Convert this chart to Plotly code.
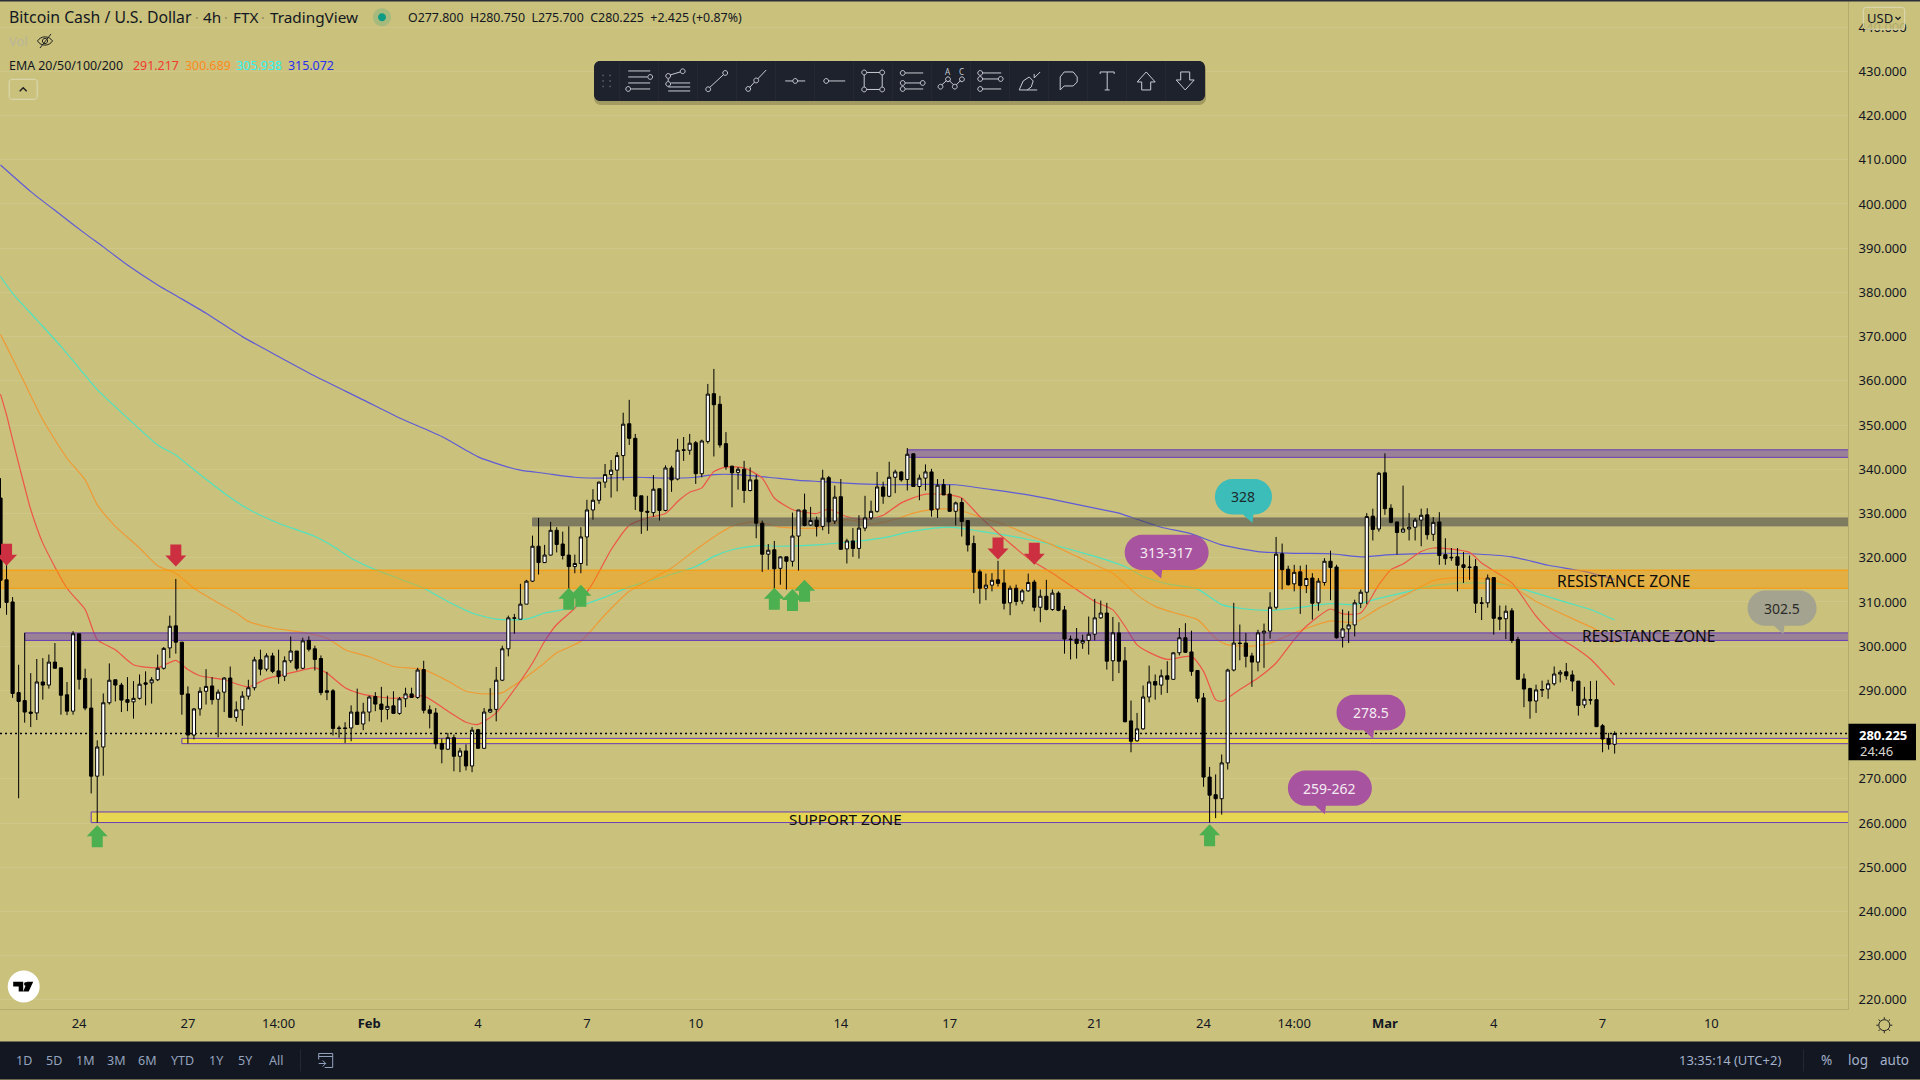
import pandas as pd
import plotly.graph_objects as go

# 4h candles
opens = [
    333.5, 315.0, 310.0, 289.5, 287.7, 285.1, 284.9, 291.9, 291.2, 296.4,
    295.1, 289.0, 285.3, 302.8, 292.7, 286.0, 270.6, 277.2, 287.2, 292.4,
    291.2, 287.9, 287.4, 288.2, 291.7, 291.7, 292.4, 295.0, 299.6, 304.6,
    300.9, 289.2, 279.9, 285.8, 289.8, 291.0, 288.0, 289.6, 292.8, 283.9,
    285.6, 288.7, 290.6, 296.9, 294.8, 297.8, 294.4, 293.2, 296.7, 298.9,
    295.0, 301.3, 299.4, 297.2, 289.9, 289.9, 281.5, 281.5, 281.5, 285.1,
    282.4, 285.1, 288.6, 286.9, 285.7, 286.5, 284.8, 288.1, 289.2, 288.4,
    294.7, 285.6, 284.9, 278.0, 276.7, 279.3, 275.1, 276.3, 272.9, 281.1,
    276.9, 285.1, 285.7, 292.3, 299.4, 306.3, 306.1, 309.5, 314.7, 322.6,
    318.9, 320.6, 326.2, 323.1, 320.6, 318.0, 318.7, 324.7, 330.8, 333.0,
    337.1, 338.8, 339.8, 343.1, 350.3, 347.0, 334.0, 330.5, 330.2, 335.6,
    330.7, 340.3, 337.8, 344.4, 344.3, 346.0, 339.0, 346.3, 357.1, 354.7,
    345.8, 340.7, 339.3, 340.0, 335.2, 337.6, 327.8, 320.8, 321.8, 317.6,
    320.2, 319.2, 324.9, 330.8, 327.4, 328.5, 327.1, 338.1, 328.3, 333.8,
    322.0, 323.8, 322.1, 326.7, 329.0, 330.5, 336.0, 333.9, 338.2, 339.4,
    337.7, 343.5, 336.1, 338.0, 339.4, 331.0, 336.5, 334.4, 330.5, 332.5,
    328.4, 323.2, 316.8, 313.1, 313.8, 315.0, 314.3, 309.8, 313.1, 310.2,
    312.5, 314.5, 308.8, 311.3, 308.3, 312.0, 308.2, 301.6, 301.6, 300.7,
    301.3, 302.7, 306.4, 307.5, 296.7, 303.0, 296.7, 283.1, 278.6, 281.3,
    288.5, 292.0, 291.2, 293.3, 292.5, 298.5, 301.9, 298.7, 294.5, 288.3,
    270.4, 266.4, 265.5, 273.6, 294.6, 300.7, 300.7, 297.8, 296.4, 303.0,
    303.4, 308.8, 320.9, 317.4, 314.1, 316.8, 313.7, 315.4, 309.8, 314.4,
    319.2, 317.9, 302.0, 303.9, 304.8, 309.7, 312.2, 329.4, 326.5, 339.2,
    331.2, 328.1, 325.8, 326.5, 326.9, 328.5, 329.7, 325.3, 328.1, 320.7,
    320.1, 320.2, 318.4, 317.9, 318.0, 309.8, 309.8, 315.5, 306.5, 306.2,
    308.0, 301.5, 292.6, 290.4, 287.6, 290.2, 290.3, 291.5, 293.7, 294.2,
    293.5, 292.1, 286.7, 287.9, 287.9, 282.0, 279.1, 277.8,
]
highs = [
    338.0, 318.6, 311.1, 295.8, 303.0, 293.9, 297.1, 297.3, 298.1, 300.7,
    295.1, 291.9, 303.4, 302.8, 294.9, 292.7, 278.7, 289.3, 296.1, 292.4,
    291.7, 293.0, 292.1, 293.6, 294.3, 293.0, 298.1, 299.8, 306.9, 315.2,
    300.9, 290.9, 286.0, 290.7, 294.8, 293.0, 290.2, 293.0, 295.4, 287.5,
    289.8, 292.4, 297.6, 299.2, 298.4, 298.5, 299.2, 297.7, 302.2, 298.9,
    301.9, 302.2, 300.1, 297.9, 294.2, 290.3, 282.0, 282.8, 286.6, 290.4,
    287.2, 288.8, 289.6, 290.8, 288.8, 289.8, 288.5, 290.6, 290.6, 295.1,
    296.7, 286.6, 286.0, 279.1, 280.4, 280.0, 277.0, 277.8, 281.7, 281.3,
    286.0, 290.5, 295.3, 300.1, 306.9, 307.3, 314.1, 315.0, 325.0, 329.0,
    322.9, 328.1, 326.9, 325.9, 327.1, 320.7, 326.9, 333.1, 335.5, 337.2,
    341.2, 342.1, 343.9, 352.8, 355.7, 348.0, 334.0, 334.0, 338.7, 335.6,
    340.9, 340.8, 346.9, 347.3, 348.0, 346.4, 346.7, 359.3, 362.7, 356.6,
    348.4, 340.8, 340.5, 341.9, 340.4, 338.8, 328.4, 323.1, 323.8, 320.3,
    320.2, 330.2, 330.8, 334.5, 331.5, 329.3, 339.9, 338.5, 336.3, 337.8,
    324.3, 326.7, 329.6, 334.0, 332.9, 339.4, 337.2, 341.7, 339.9, 339.5,
    344.8, 343.5, 338.8, 341.1, 340.1, 337.8, 337.8, 336.5, 332.7, 333.5,
    328.4, 325.0, 317.3, 316.4, 316.5, 319.3, 317.3, 313.7, 313.9, 312.9,
    316.4, 315.0, 312.8, 315.0, 312.8, 312.4, 309.1, 302.4, 304.1, 302.6,
    306.7, 310.7, 310.3, 309.8, 306.6, 305.4, 299.8, 287.7, 284.9, 291.1,
    295.6, 293.6, 294.7, 296.6, 298.6, 304.1, 305.2, 303.5, 294.5, 289.4,
    272.7, 271.0, 275.5, 294.9, 309.8, 304.9, 303.0, 298.5, 303.7, 305.1,
    312.2, 324.7, 323.2, 318.2, 318.4, 318.2, 318.4, 316.5, 315.4, 319.9,
    321.6, 318.4, 308.3, 307.9, 310.5, 312.8, 330.1, 331.1, 339.4, 343.6,
    332.1, 328.1, 336.3, 330.1, 329.0, 331.1, 331.2, 329.2, 330.3, 324.4,
    322.2, 322.2, 321.3, 320.5, 319.7, 311.1, 316.2, 315.5, 309.2, 309.2,
    308.6, 302.1, 293.8, 290.6, 291.3, 292.2, 292.4, 295.4, 294.6, 296.2,
    294.5, 292.1, 290.8, 292.1, 292.2, 282.4, 280.4, 280.75,
]
lows = [
    308.6, 307.1, 288.3, 265.6, 282.7, 281.7, 283.3, 287.9, 290.4, 295.0,
    284.5, 284.4, 284.5, 290.2, 285.5, 266.7, 260.1, 270.7, 286.8, 287.5,
    285.1, 285.3, 283.6, 287.9, 286.6, 287.0, 292.1, 294.7, 297.3, 298.3,
    284.5, 278.0, 278.9, 284.3, 286.8, 286.8, 279.4, 285.1, 283.9, 282.9,
    282.0, 287.9, 290.0, 293.4, 294.3, 293.9, 291.5, 292.1, 296.2, 294.5,
    294.8, 298.8, 294.5, 288.9, 287.8, 279.8, 279.3, 278.1, 278.5, 282.2,
    281.0, 283.0, 285.3, 282.8, 283.4, 284.7, 284.5, 286.2, 288.3, 288.1,
    284.8, 281.4, 276.8, 273.5, 276.5, 271.7, 271.5, 271.9, 271.5, 276.8,
    276.8, 284.9, 283.0, 292.1, 297.7, 302.8, 306.1, 309.5, 314.5, 316.2,
    318.8, 320.5, 321.2, 319.6, 312.5, 316.5, 316.5, 318.2, 328.6, 332.2,
    335.8, 333.6, 335.0, 337.5, 345.5, 330.8, 325.4, 326.1, 329.3, 328.4,
    330.5, 334.9, 337.5, 341.9, 343.3, 336.7, 338.2, 345.8, 342.9, 344.9,
    339.9, 331.4, 335.4, 332.4, 335.0, 324.4, 316.8, 317.3, 312.4, 313.9,
    312.8, 318.0, 317.1, 327.1, 327.2, 324.8, 326.2, 325.4, 327.6, 321.8,
    318.7, 320.2, 319.8, 326.0, 328.6, 330.2, 332.2, 333.7, 334.6, 337.2,
    335.2, 336.0, 333.0, 335.2, 329.3, 329.0, 334.2, 330.4, 327.3, 324.8,
    321.4, 312.0, 309.6, 310.4, 312.4, 313.5, 308.3, 307.0, 309.2, 309.5,
    312.3, 307.9, 305.4, 308.1, 308.0, 307.9, 298.3, 297.0, 297.2, 299.4,
    298.1, 301.3, 306.2, 294.7, 292.1, 293.9, 282.8, 276.0, 278.4, 281.1,
    287.3, 287.9, 289.0, 289.4, 292.4, 297.9, 298.5, 293.3, 287.3, 268.2,
    260.1, 261.1, 261.9, 272.1, 294.3, 296.8, 295.2, 290.8, 294.3, 295.1,
    301.7, 308.3, 312.8, 313.7, 312.4, 307.3, 312.0, 306.0, 308.0, 313.7,
    310.4, 301.7, 299.7, 300.7, 302.2, 308.6, 309.5, 323.9, 325.9, 329.7,
    327.8, 320.7, 325.7, 323.9, 323.9, 322.6, 324.1, 323.8, 318.4, 318.4,
    319.3, 312.4, 314.3, 315.0, 307.5, 305.9, 308.7, 302.6, 303.6, 301.6,
    300.7, 292.4, 286.2, 283.6, 284.9, 288.5, 288.1, 291.1, 291.8, 292.4,
    289.8, 284.3, 286.0, 286.8, 281.7, 276.0, 276.6, 275.7,
]
closes = [
    314.9, 309.9, 289.3, 287.5, 285.1, 284.8, 291.9, 291.2, 296.4, 295.0,
    288.9, 285.3, 302.8, 292.5, 286.0, 270.6, 277.2, 287.2, 292.3, 291.2,
    287.8, 287.3, 288.2, 291.4, 291.4, 292.4, 295.0, 299.5, 304.5, 300.9,
    289.1, 279.9, 285.8, 289.8, 290.9, 287.9, 289.6, 292.8, 283.9, 285.6,
    288.7, 290.6, 296.9, 294.8, 297.8, 294.3, 293.1, 296.7, 298.9, 295.0,
    301.2, 299.3, 297.0, 289.5, 289.6, 281.4, 281.4, 281.4, 285.1, 282.3,
    285.1, 288.5, 286.9, 285.7, 286.4, 284.8, 288.1, 289.2, 288.4, 294.6,
    285.5, 284.8, 277.9, 276.7, 279.3, 275.1, 276.3, 272.9, 281.0, 276.9,
    285.1, 285.7, 292.3, 299.4, 306.4, 306.4, 309.5, 314.7, 322.6, 318.9,
    320.6, 326.2, 323.0, 320.5, 318.0, 318.7, 324.7, 330.8, 333.0, 337.1,
    338.8, 339.8, 343.1, 350.2, 347.0, 333.9, 330.5, 330.3, 335.5, 330.7,
    340.3, 337.6, 344.3, 344.3, 345.9, 339.0, 346.4, 357.0, 354.6, 345.5,
    340.6, 339.2, 340.0, 335.2, 337.6, 327.8, 320.8, 321.7, 317.5, 320.2,
    319.2, 324.9, 330.8, 327.3, 328.4, 327.1, 338.0, 328.1, 333.7, 321.9,
    323.8, 322.1, 326.7, 329.0, 330.5, 336.0, 333.9, 338.2, 339.4, 337.6,
    343.4, 336.1, 338.0, 339.4, 330.8, 336.4, 334.2, 330.5, 332.4, 328.2,
    322.9, 316.7, 313.1, 313.8, 314.9, 314.2, 309.7, 313.1, 310.1, 312.5,
    314.4, 308.8, 311.3, 308.3, 312.0, 308.1, 301.6, 301.5, 300.6, 301.3,
    302.7, 306.4, 307.5, 296.6, 303.0, 296.6, 282.9, 278.5, 281.3, 288.5,
    291.9, 291.2, 293.3, 292.5, 298.5, 301.9, 298.6, 294.3, 288.2, 270.4,
    266.3, 265.5, 273.6, 294.6, 300.7, 300.6, 297.7, 296.4, 303.0, 303.4,
    308.8, 320.8, 317.3, 313.9, 316.7, 313.7, 315.3, 309.7, 314.7, 319.2,
    317.8, 301.9, 303.9, 304.8, 309.8, 312.2, 329.3, 326.4, 339.1, 331.1,
    328.0, 325.7, 326.5, 326.9, 328.5, 329.6, 325.2, 328.0, 320.5, 319.8,
    320.0, 318.3, 317.8, 317.8, 309.7, 309.7, 315.4, 306.3, 306.1, 307.9,
    301.3, 292.5, 290.3, 287.6, 290.1, 290.1, 291.5, 293.7, 294.1, 293.3,
    292.1, 286.6, 288.0, 287.8, 281.8, 279.0, 277.8, 280.225,
]

# EMA lines, read at the bars where they bend (bar number, value)
ema20_bars = [0, 1, 2, 4, 5, 7, 11, 14, 16, 19, 22, 26, 29, 31, 33, 37, 41, 44, 47, 52, 54, 57, 60, 65, 70, 74, 77, 79, 82, 85, 88, 90, 92, 95, 98, 101, 104, 107, 110, 112, 114, 116, 118, 120, 123, 126, 128, 131, 135, 137, 140, 143, 146, 149, 153, 157, 159, 162, 166, 170, 174, 178, 181, 184, 186, 188, 190, 193, 197, 199, 201, 202, 205, 208, 211, 214, 216, 220, 222, 225, 228, 230, 232, 235, 237, 243, 245, 250, 254, 257, 260, 263, 267]
ema20_vals = [357, 352.3, 346.7, 336, 330.9, 323.3, 313.1, 308.3, 301.5, 299.2, 295.8, 295.1, 296.8, 294.7, 293.3, 292.4, 290.8, 292.6, 293.6, 295.1, 293.9, 290.6, 289.1, 288.2, 288.7, 285.3, 282.8, 282.3, 284.9, 290.2, 296.2, 301.1, 304.9, 308.6, 314.3, 321.8, 327.3, 329, 330, 332.7, 334.8, 335.8, 339.5, 340.5, 340.3, 338, 333.5, 330.9, 330, 331, 329.3, 328.6, 329.6, 332.4, 334.4, 334.2, 333.5, 329.3, 324.4, 319.9, 316.5, 312.8, 310.1, 308.2, 304.5, 300.3, 298.6, 297, 297.7, 294.3, 287.9, 287.5, 290.2, 292.8, 296.2, 301.5, 304.5, 308.4, 307.3, 307.5, 313.9, 317.3, 318.6, 321.4, 322.2, 321.2, 318.8, 314.3, 306.8, 302.6, 300.1, 297.1, 291.2]
ema50_bars = [0, 1, 4, 7, 11, 14, 16, 19, 23, 26, 29, 32, 36, 39, 41, 45, 50, 54, 57, 61, 65, 70, 74, 77, 80, 83, 86, 89, 92, 96, 100, 104, 107, 111, 115, 119, 121, 125, 129, 135, 140, 144, 148, 151, 154, 158, 162, 166, 170, 174, 178, 181, 184, 188, 191, 194, 198, 201, 203, 207, 210, 214, 217, 220, 224, 228, 233, 237, 241, 246, 250, 254, 258, 261, 264, 267]
ema50_vals = [370.5, 367.8, 359.5, 351.2, 342.5, 337.6, 332, 327.1, 322.2, 318.2, 316.5, 313.1, 309.8, 307.5, 305.6, 304.1, 303.1, 301.8, 299.2, 297.6, 295.4, 294.7, 292.1, 289.8, 289.2, 289.5, 292.1, 295.1, 298.5, 301.1, 307.1, 312.4, 314.7, 317.7, 321.8, 325.6, 327.1, 328.2, 326.9, 326.7, 328.6, 327.6, 328.7, 330.1, 330.9, 331, 329.2, 327.5, 325.2, 322.9, 320.3, 318.4, 316.5, 311.6, 309, 307.6, 306, 301.8, 300.3, 300, 300.7, 303, 304.5, 305.7, 305.4, 308.6, 312, 314.8, 315.5, 315.2, 313.5, 310.1, 307.5, 305.6, 303.7, 300.7]
ema100_bars = [0, 2, 6, 10, 13, 16, 21, 26, 29, 33, 37, 41, 46, 52, 55, 58, 62, 70, 74, 78, 82, 87, 90, 95, 100, 104, 109, 115, 118, 121, 125, 129, 135, 140, 146, 151, 157, 162, 169, 175, 181, 186, 189, 193, 198, 202, 206, 210, 214, 220, 224, 228, 233, 237, 243, 249, 254, 259, 263, 267]
ema100_vals = [383.6, 379.8, 373.8, 367.8, 362.9, 358, 351.6, 345.5, 343.2, 338.8, 334.6, 331, 327.8, 324.8, 322.6, 319.9, 317.3, 313.1, 310.1, 307.5, 306.1, 306.1, 307.5, 308.8, 311.1, 313.4, 315.4, 318, 320.3, 321.8, 322.7, 322.6, 322.9, 323.5, 324.5, 326, 326.9, 326, 324.4, 322.6, 320.3, 318, 315.8, 314.1, 312.9, 309.4, 308.4, 308.1, 308.6, 309.6, 309.4, 310.8, 312.4, 313.7, 314.3, 313.9, 312, 309.9, 308.3, 305.9]
ema200_bars = [0, 5, 10, 14, 17, 21, 26, 29, 34, 40, 46, 52, 60, 66, 73, 79, 83, 86, 90, 95, 100, 105, 110, 115, 118, 122, 127, 132, 136, 142, 147, 153, 158, 164, 170, 175, 181, 185, 188, 192, 197, 202, 208, 214, 220, 225, 230, 237, 243, 250, 256, 262, 267]
ema200_vals = [408.8, 402.8, 397.5, 393.3, 390.3, 386.2, 381.7, 379.3, 375.3, 370, 365.5, 361.1, 355.7, 351.6, 347.4, 342.8, 340.9, 339.8, 339.1, 338.2, 338, 338.2, 338, 338.2, 338.8, 338.8, 338.2, 337.5, 337.2, 336.7, 336.5, 336.6, 336.5, 335.4, 334.2, 332.9, 331.2, 330.1, 328.7, 326.9, 325.4, 322.9, 321.4, 321, 320.9, 320.2, 320.7, 321, 320.9, 320.2, 318.3, 316.9, 315.1]

# drawn zones: first bar, low, high
zone_start = [0, 88, 150, 4, 30, 15]
zone_low = [313.1, 327.2, 342.7, 301.3, 277.95, 260.1]
zone_high = [317.2, 329.0, 344.4, 303.0, 279.15, 262.5]
zone_fill = ["rgba(255,152,0,0.45)", "rgba(77,77,77,0.6)", "rgba(103,58,183,0.47)",
             "rgba(103,58,183,0.47)", "#ecd94a", "#e6d652"]
zone_line = ["#ff9800", "#7f7a66", "#673ab7", "#673ab7", "#673ab7", "#673ab7"]

# arrows on the chart: bar and tip price
up_bars = [16, 94, 96, 128, 131, 133, 200]
up_tips = [259.5, 313.2, 313.9, 313.2, 312.9, 315.0, 259.7]
down_bars = [1, 29, 165, 171]
down_tips = [318.2, 318.0, 319.6, 318.4]

# balloons: label, bar, price
balloon_text = ["313-317", "328", "278.5", "259-262", "302.5"]
balloon_bar = [192.9, 205.6, 226.7, 219.9, 294.7]
balloon_price = [321.2, 333.8, 285.0, 267.9, 308.6]
balloon_fill = ["#a8539f", "#3dbdba", "#a8539f", "#a8539f", "#a4a38f"]
balloon_color = ["#f4ecf2", "#1b2a2a", "#f4ecf2", "#f4ecf2", "#2a2a26"]
balloon_tail = [-5.5, 9, 2, -5, 1.3]
balloon_width = [84, 57, 69, 84, 69]

price_ticks = list(range(220, 450, 10))
time_tick_bars = [13, 31, 46, 61, 79, 97, 115, 139, 157, 181, 199, 214, 229, 247, 265, 283]
time_tick_text = ["24", "27", "14:00", "<b>Feb</b>", "4", "7", "10", "14", "17", "21", "24", "14:00",
                  "<b>Mar</b>", "4", "7", "10"]
last_price = 280.225

BG = "#c9c17c"
DARK = "#131722"
PANEL = "#1e222d"
FONT = "Noto Sans"
PLOT_W = 1848
PLOT_TOP = 2
PLOT_H = 1007.5


def bar_time(i):
    return pd.Timestamp("2022-01-21 22:00") + pd.Timedelta(hours=4 * i)


def t(i):
    return bar_time(i).strftime("%Y-%m-%d %H:%M:%S")


def px(x):
    return x / PLOT_W


def py(y):
    return 1 - (y - PLOT_TOP) / PLOT_H


def price_at(y):
    return 320 + (558 - y) / 4.424


dates = [t(i) for i in range(len(opens))]
x_range = [t(-0.083), t(305.6)]
y_range = [price_at(PLOT_TOP + PLOT_H), price_at(PLOT_TOP)]

fig = go.Figure()

# lowest layer: EMAs, then zones on top of them, candles on the overlay axes
for bars, vals, col in [(ema200_bars, ema200_vals, "#5f5bd6"), (ema100_bars, ema100_vals, "#4fe3bf"),
                        (ema50_bars, ema50_vals, "#f09a35"), (ema20_bars, ema20_vals, "#ee5548")]:
    fig.add_trace(go.Scatter(x=[t(b) for b in bars], y=vals, mode="lines", hoverinfo="skip",
                             line=dict(color=col, width=1.2, shape="spline", smoothing=0.6)))

for s, lo, hi, fc, lc in zip(zone_start, zone_low, zone_high, zone_fill, zone_line):
    fig.add_trace(go.Scatter(x=[t(s), t(306), t(306), t(s), t(s)], y=[lo, lo, hi, hi, lo], mode="lines",
                             fill="toself", fillcolor=fc, line=dict(color=lc, width=1), hoverinfo="skip"))

fig.add_trace(go.Candlestick(x=dates, open=opens, high=highs, low=lows, close=closes,
                             xaxis="x2", yaxis="y2", whiskerwidth=0,
                             increasing=dict(fillcolor="#ffffff", line=dict(color="#000000", width=1)),
                             decreasing=dict(fillcolor="#000000", line=dict(color="#000000", width=1))))

shapes = []
annotations = []


def fmt(v):
    return f"{round(v, 2):g}"


def poly(pts, close=True):
    # offsets are screen pixels, y down; plotly's pixel paths have y up
    s = "M" + " L".join(f"{fmt(x)},{fmt(-y)}" for x, y in pts)
    return s + (" Z" if close else "")


def circle(cx, cy, r):
    k = 0.5523 * r
    y = -cy
    return (f"M{fmt(cx - r)},{fmt(y)} C{fmt(cx - r)},{fmt(y + k)} {fmt(cx - k)},{fmt(y + r)} {fmt(cx)},{fmt(y + r)} "
            f"C{fmt(cx + k)},{fmt(y + r)} {fmt(cx + r)},{fmt(y + k)} {fmt(cx + r)},{fmt(y)} "
            f"C{fmt(cx + r)},{fmt(y - k)} {fmt(cx + k)},{fmt(y - r)} {fmt(cx)},{fmt(y - r)} "
            f"C{fmt(cx - k)},{fmt(y - r)} {fmt(cx - r)},{fmt(y - k)} {fmt(cx - r)},{fmt(y)} Z")


def rrect(x0, y0, x1, y1, r, tail=None):
    y0, y1 = -y0, -y1
    k = r * 0.45
    s = f"M{fmt(x0 + r)},{fmt(y0)} L{fmt(x1 - r)},{fmt(y0)} "
    s += f"C{fmt(x1 - k)},{fmt(y0)} {fmt(x1)},{fmt(y0 - k)} {fmt(x1)},{fmt(y0 - r)} "
    s += f"L{fmt(x1)},{fmt(y1 + r)} C{fmt(x1)},{fmt(y1 + k)} {fmt(x1 - k)},{fmt(y1)} {fmt(x1 - r)},{fmt(y1)} "
    if tail is not None:
        s += f"L{fmt(tail + 1)},{fmt(y1)} L{fmt(tail)},{fmt(y1 - 8.5)} L{fmt(tail - 9.5)},{fmt(y1)} "
    s += f"L{fmt(x0 + r)},{fmt(y1)} C{fmt(x0 + k)},{fmt(y1)} {fmt(x0)},{fmt(y1 + k)} {fmt(x0)},{fmt(y1 + r)} "
    s += f"L{fmt(x0)},{fmt(y0 - r)} C{fmt(x0)},{fmt(y0 - k)} {fmt(x0 + k)},{fmt(y0)} {fmt(x0 + r)},{fmt(y0)} Z"
    return s


def screen_shape(cx, cy, path, fill=None, color=None, width=1.0):
    shapes.append(dict(type="path", layer="above", xref="paper", yref="paper", xsizemode="pixel", ysizemode="pixel",
                       xanchor=px(cx), yanchor=py(cy), path=path, fillcolor=fill or "rgba(0,0,0,0)",
                       line=dict(color=color or "rgba(0,0,0,0)", width=width if color else 0)))


def data_shape(bar, price, path, fill):
    shapes.append(dict(type="path", layer="above", xref="x", yref="y", xsizemode="pixel", ysizemode="pixel",
                       xanchor=t(bar), yanchor=price, path=path, fillcolor=fill, line=dict(width=0)))


def box(x0, y0, x1, y1, fill, color=None):
    shapes.append(dict(type="rect", layer="above", xref="paper", yref="paper", x0=px(x0), x1=px(x1),
                       y0=py(y1), y1=py(y0), fillcolor=fill, line=dict(color=color or fill, width=1 if color else 0)))


def text(x, y, s, size=12, color="#131722", anchor="left", family=FONT):
    annotations.append(dict(xref="paper", yref="paper", x=px(x), y=py(y), text=s, showarrow=False,
                            xanchor=anchor, yanchor="middle", borderpad=0, borderwidth=0,
                            font=dict(family=family, size=size, color=color)))


# last price line
shapes.append(dict(type="line", layer="above", xref="paper", yref="y", x0=0, x1=1, y0=last_price, y1=last_price,
                   line=dict(color="#000000", width=1.5, dash="2px,3px")))

# chart arrows
for b, p in zip(up_bars, up_tips):
    data_shape(b, p, poly([(0, 0), (10.5, 11), (5.5, 11), (5.5, 22), (-5.5, 22), (-5.5, 11), (-10.5, 11)]), "#4caf50")
for b, p in zip(down_bars, down_tips):
    data_shape(b, p, poly([(0, 0), (10.5, -11), (5.5, -11), (5.5, -22), (-5.5, -22), (-5.5, -11), (-10.5, -11)]), "#cc2f3f")

# balloons with their labels
for lab, b, p, fc, tc, tl, w in zip(balloon_text, balloon_bar, balloon_price, balloon_fill, balloon_color,
                                    balloon_tail, balloon_width):
    data_shape(b, p, rrect(-w / 2, -17.7, w / 2, 17.7, 17.5, tail=tl), fc)
    annotations.append(dict(xref="x", yref="y", x=t(b), y=p, text=lab, showarrow=False, xanchor="center",
                            yanchor="middle", font=dict(family=FONT, size=14, color=tc)))

# zone labels
text(1623, 581.7, "RESISTANCE ZONE", 15.5, "#0c0c0c", "center")
text(1648.5, 636.7, "RESISTANCE ZONE", 15.5, "#0c0c0c", "center")
text(845, 819.5, "SUPPORT ZONE", 15.3, "#0c0c0c", "center")

# header
box(0, 0, 1920, 1.5, "#2a2e39")
text(8.6, 17.3, "Bitcoin Cash / U.S. Dollar", 15.8, "#131722")
for x, s in [(203, "4h"), (232.6, "FTX"), (269.5, "TradingView")]:
    text(x, 17.3, s, 15.3, "#131722")
for x in (197, 226, 263):
    text(x, 17.3, "·", 14, "#8f8b5c", "center")
screen_shape(382, 17.3, circle(0, 0, 9), fill="rgba(8,153,129,0.18)")
screen_shape(382, 17.3, circle(0, 0, 4), fill="#0c9c86")
text(408, 18, "O277.800  H280.750  L275.700  C280.225  +2.425 (+0.87%)", 12.4, "#131722")
text(9, 41.3, "Vol", 13, "#b9b69a")
screen_shape(45, 41, "M-7.5,0 C-4,5.5 4,5.5 7.5,0 C4,-5.5 -4,-5.5 -7.5,0 Z", color="#222222", width=1)
screen_shape(45, 41, poly([(-5, 7), (6, -7)], close=False), color="#222222", width=1)
screen_shape(45, 41, circle(0, 0, 2.6), color="#222222", width=1)
text(9, 65.7, "EMA 20/50/100/200", 12.4, "#131722")
for x, s, c in [(133, "291.217", "#f23a30"), (184.5, "300.689", "#ff8a1e"), (236, "305.938", "#2ff5f5"),
                (288, "315.072", "#2a2ef0")]:
    text(x, 65.7, s, 12.4, c)
screen_shape(23.2, 89.3, rrect(-14, -10, 14, 10, 2.5), color="#dedbb8", width=1)
screen_shape(23.2, 89.3, poly([(-3.5, 2), (0, -1.5), (3.5, 2)], close=False), color="#222222", width=1.5)

# currency button and price label on the scale
screen_shape(1884, 18.3, rrect(-20.7, -11, 20.7, 11, 3), fill="rgba(201,193,124,0.85)", color="#dedbb8", width=1)
text(1880, 18, "USD", 13, "#131722", "center")
screen_shape(1898, 18, poly([(-2.5, -1), (0, 1.5), (2.5, -1)], close=False), color="#131722", width=1.2)
box(1848.5, 724, 1916, 760.7, "#000000")
text(1883, 735.5, "<b>280.225</b>", 13, "#ffffff", "center")
text(1876.5, 751.5, "24:46", 13, "#d7d7d0", "center")

# logo and settings
screen_shape(23.7, 987, circle(0, 0, 16), fill="#ffffff")
screen_shape(23.7, 987, poly([(-10.5, -4.7), (-0.5, -4.7), (-0.5, 5), (-5, 5), (-5, 0), (-10.5, 0)]), fill="#000000")
screen_shape(23.7, 987, poly([(3.5, -4.7), (9.5, -4.7), (5, 5), (-0.5, 5)]), fill="#000000")
screen_shape(23.7, 987, circle(2.4, -2.6, 2), fill="#000000")
screen_shape(1884.3, 1025.7, circle(0, 0, 5.5), color="#222222", width=1)
for dx, dy in [(0, -8), (0, 8), (-8, 0), (8, 0), (-5.7, -5.7), (5.7, 5.7), (-5.7, 5.7), (5.7, -5.7)]:
    screen_shape(1884.3, 1025.7, poly([(dx * 0.72, dy * 0.72), (dx, dy)], close=False), color="#222222", width=1)

# footer bar
box(0, 1042, 1920, 1080, DARK)
for x, s in [(24, "1D"), (54, "5D"), (85, "1M"), (116, "3M"), (147, "6M"), (182, "YTD"), (216, "1Y"), (246, "5Y"),
             (275.5, "All")]:
    text(x, 1061.3, s, 12.5, "#95a3bd", "center")
box(300, 1050, 300.8, 1072, "#2a2e39")
box(1803, 1050, 1803.8, 1072, "#2a2e39")
screen_shape(325.7, 1061, poly([(-7, -1), (-7, -7), (7, -7), (7, 7), (-1, 7)], close=False), color="#95a3bd", width=1)
screen_shape(325.7, 1061, poly([(-7, -4), (7, -4)], close=False), color="#95a3bd", width=1)
screen_shape(325.7, 1061, poly([(-7, 3), (0, 3)], close=False), color="#95a3bd", width=1)
screen_shape(325.7, 1061, poly([(-3, 0), (0, 3), (-3, 6)], close=False), color="#95a3bd", width=1)
text(1678.7, 1061, "13:35:14 (UTC+2)", 13, "#a3b1c9")
text(1826.7, 1061, "%", 13.5, "#a3b1c9", "center")
text(1857.7, 1061, "log", 13.5, "#a3b1c9", "center")
text(1895, 1061, "auto", 13.5, "#a3b1c9", "center")

# drawing toolbar
screen_shape(900, 84, rrect(-306, -21, 306, 21, 7), fill="rgba(60,55,30,0.28)")
screen_shape(899.5, 81, rrect(-305.5, -20, 305.5, 20, 6), fill=PANEL)
for k in range(15):
    box(619.4 + 39 * k, 61, 620 + 39 * k, 101, "#2a2e39")
for dx in (-3.5, 3.5):
    for dy in (-5.5, 0, 5.5):
        screen_shape(606.6, 81, circle(dx, dy, 0.9), fill="#575c68")

ICON = "#c9ccd3"
icons = {
    0: [[(-11, -10), (11, -10)], [(-11, -4), (8, -4)], [(-11, 2), (11, 2)], [(-8, 8), (11, 8)]],
    1: [[(-10, -2), (-10, 0)], [(-8, -6), (2, -9)], [(-7, 2), (12, 2)], [(-10, 6), (12, 6)], [(-10, 10), (12, 10)]],
    2: [[(-7.5, 6.5), (6.5, -6.5)]],
    3: [[(-6.5, 6.5), (-1.5, 1)], [(1.5, -2), (10, -11)]],
    4: [[(-10, 0), (-2.5, 0)], [(2.5, 0), (10, 0)]],
    5: [[(-5.5, 0), (11, 0)]],
    6: [[(-9, -6), (-9, 6)], [(9, -6), (9, 6)], [(-6.5, -8.5), (6.5, -8.5)], [(-6.5, 8.5), (6.5, 8.5)]],
    7: [[(-7, -8), (11, -8)], [(-7, 2), (8, 2)], [(-7, 8), (11, 8)]],
    8: [[(-9.5, 4), (-4.5, -0.5)], [(-2, -0.5), (2.5, 4)], [(5, 4), (9.5, -0.5)]],
    9: [[(-8, -8), (11, -8)], [(-8, -2), (8, -2)], [(-8, 8), (11, 8)]],
    10: [[(-10, 9), (8, 9)], [(-10, 9), (-6, 0), (0, -4), (4, 0), (2, 6), (-2, 9)], [(5, -3), (11, -9)], [(5, -7), (5, -3)]],
    11: [[(-8, 9), (-8, -4), (-4, -9), (5, -9), (9, -4), (9, 1), (5, 5), (-4, 5), (-8, 9)]],
    12: [[(-7, -9), (7, -9)], [(0, -9), (0, 9)], [(-2.5, 9), (2.5, 9)], [(-7, -9), (-7, -7)], [(7, -9), (7, -7)]],
    13: [[(0, -9), (9, 1), (4.5, 1), (4.5, 9), (-4.5, 9), (-4.5, 1), (-9, 1), (0, -9)]],
    14: [[(0, 9), (9, -1), (4.5, -1), (4.5, -9), (-4.5, -9), (-4.5, -1), (-9, -1), (0, 9)]],
}
nodes = {
    0: [(11, -4), (-11, 8)],
    1: [(-10, -5), (4.5, -9.7), (-10, 3)],
    2: [(-9, 8.3), (8, -8)],
    3: [(-8, 8), (0, -0.5)],
    4: [(0, 0)],
    5: [(-8, 0)],
    6: [(-9, -8.5), (9, -8.5), (-9, 8.5), (9, 8.5)],
    7: [(-9.5, -8), (-9.5, 2), (10.5, 2), (-9.5, 8)],
    8: [(-10.7, 5.7), (-3.2, -1.7), (3.6, 5.7), (10.7, -1.7)],
    9: [(-10, -8), (-10, -2), (10.5, -2), (-10, 8)],
}
for k in range(15):
    cx = 639.2 + 39 * k
    for seg in icons.get(k, []):
        screen_shape(cx, 81, poly(seg, close=False), color=ICON, width=1)
    for nx, ny in nodes.get(k, []):
        screen_shape(cx, 81, circle(nx, ny, 2.4), color=ICON, width=1)
text(639.2 + 39 * 8 - 3.2, 71.3, "A", 8, ICON, "center")
text(639.2 + 39 * 8 + 10.7, 71.3, "C", 8, ICON, "center")

fig.update_layout(
    width=1920, height=1080,
    margin=dict(l=0, r=72, t=PLOT_TOP, b=70.5, autoexpand=False),
    paper_bgcolor=BG, plot_bgcolor=BG,
    showlegend=False, boxgap=0.25, hovermode=False, dragmode=False,
    shapes=shapes, annotations=annotations,
    xaxis=dict(type="date", range=x_range, side="bottom", showgrid=False, zeroline=False, showline=True,
               linecolor="#b2ab6c", linewidth=1, tickmode="array", tickvals=[t(b) for b in time_tick_bars],
               ticktext=time_tick_text, tickfont=dict(family=FONT, size=13, color="#131722"), ticks="",
               ticklabelstandoff=2, rangeslider=dict(visible=False)),
    yaxis=dict(range=y_range, side="right", showgrid=True, gridcolor="#cec787", gridwidth=1, zeroline=False,
               showline=True, linecolor="#b2ab6c", linewidth=1, tickmode="array", tickvals=price_ticks,
               ticktext=["" if v == 280 else f"{v}.000" for v in price_ticks],
               tickfont=dict(family=FONT, size=13, color="#131722"), ticks="", ticklabelstandoff=7),
    xaxis2=dict(type="date", range=x_range, overlaying="x", visible=False, rangeslider=dict(visible=False)),
    yaxis2=dict(range=y_range, overlaying="y", side="right", visible=False),
)

fig.write_html("out.html", config=dict(displayModeBar=False),
               post_script="document.body.style.margin='0';document.body.style.overflow='hidden';")
